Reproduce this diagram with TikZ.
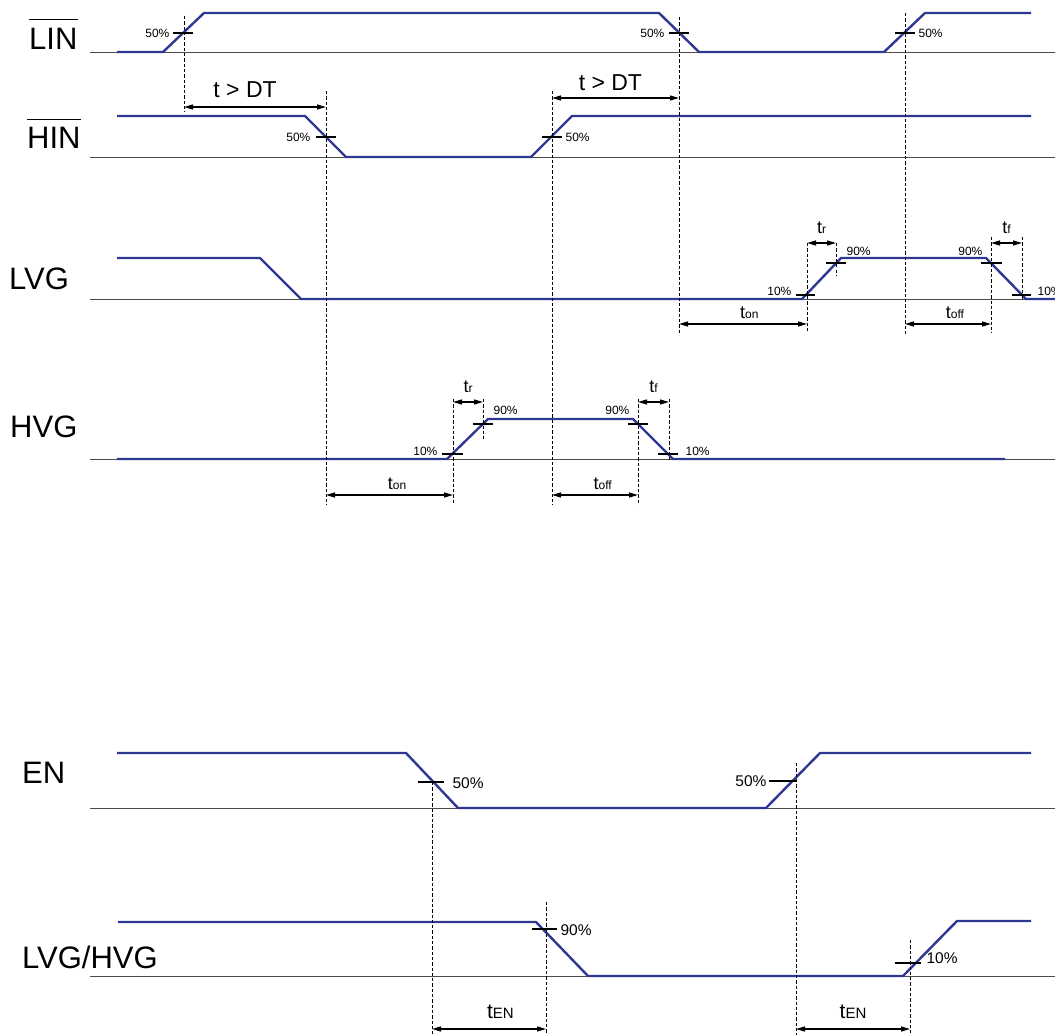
\documentclass[tikz,border=0pt]{standalone}
\usepackage{fontspec}
\setmainfont{Liberation Sans}
\usetikzlibrary{arrows.meta}
\usetikzlibrary{positioning}

\definecolor{sigblue}{RGB}{46,56,146}
\newcommand{\tsmall}[1]{t{\fontsize{12}{14}\selectfont #1}}
\newcommand{\tlarge}[1]{t{\fontsize{15}{18}\selectfont #1}}

\begin{document}
\begin{tikzpicture}[x=1pt, y=-1pt,
    wave/.style={sigblue, line width=2.4pt}, % Style for the signal traces
    zeroline/.style={black!70, line width=0.8pt}, % Style for the zero lines
    guide/.style={black, line width=0.7pt, dash pattern=on 3.3pt off 2pt}, % Dashed timing marks
    timespan/.style={black, line width=1.3pt, {Triangle[length=9pt,width=5pt]}-{Triangle[length=9pt,width=5pt]}}, % Time intervals
    lvlmark/.style={black, line width=1.2pt}, % Level crossings
    overbar/.style={black, line width=1.6pt}, % Bar over active-low names
    signame/.style={font=\fontsize{31}{36}\selectfont, anchor=base west, inner sep=0pt},
    pct/.style={font=\fontsize{12}{14}\selectfont, inner sep=1pt},
    pctbig/.style={font=\fontsize{15.5}{18}\selectfont, inner sep=1pt},
    spantext/.style={font=\fontsize{18}{20}\selectfont, inner sep=0pt},
    dttext/.style={font=\fontsize{23}{26}\selectfont, inner sep=0pt},
    entext/.style={font=\fontsize{21}{24}\selectfont, inner sep=0pt}
]
\useasboundingbox (0,0) rectangle (1055,1035);

% Zero lines
\foreach \y in {52,157,299,459,808,976}
    \draw[zeroline] (90,\y) -- (1055,\y);

% Signal names
\node[signame] (lin) at (29,50) {LIN};
\node[signame] (hin) at (27,149) {HIN};
\node[signame] (lvg) at (9,289) {LVG};
\node[signame] (hvg) at (10,437) {HVG};
\node[signame] (en) at (22,783) {EN};
\node[signame] (lvghvg) at (22,968) {LVG/HVG};
\draw[overbar] ([yshift=9pt]lin.north west) -- ([yshift=9pt]lin.north east);
\draw[overbar] ([yshift=8pt]hin.north west) -- ([yshift=8pt]hin.north east);

% --- Signal traces ---
\draw[wave] plot coordinates {
    (117,52) (163,52) (204,13) (659,13) (699,52) (884,52) (925,13) (1031,13)
};
\draw[wave] plot coordinates {
    (117,116) (305,116) (346,157) (531,157) (572,116) (1031,116)
};
\draw[wave] plot coordinates {
    (117,258) (260,258) (301,299) (802,299) (841,258) (986,258) (1026,299) (1055,299)
};
\draw[wave] plot coordinates {
    (117,459) (447,459) (488,419) (633,419) (673,459) (1005,459)
};
\draw[wave] plot coordinates {
    (117,753) (406,753) (458,808) (766,808) (820,753) (1031,753)
};
\draw[wave] plot coordinates {
    (118,922) (536,922) (588,976) (903,976) (957,921) (1031,921)
};

% --- Level crossings ---
% LIN and HIN at 50%
\draw[lvlmark] (173,33) -- (193,33) node[pct, anchor=east] at (171,33) {50\%};
\draw[lvlmark] (669,33) -- (689,33) node[pct, anchor=east] at (666,33) {50\%};
\draw[lvlmark] (895,33) -- (915,33) node[pct, anchor=west] at (917,33) {50\%};
\draw[lvlmark] (316,137) -- (336,137) node[pct, anchor=east] at (312,137) {50\%};
\draw[lvlmark] (542,137) -- (562,137) node[pct, anchor=west] at (564,137) {50\%};

% LVG at 10% / 90%
\draw[lvlmark] (796,295) -- (815,295) node[pct, anchor=east] at (793,291) {10\%};
\draw[lvlmark] (826,263) -- (846,263) node[pct, anchor=west] at (845,251) {90\%};
\draw[lvlmark] (981,263) -- (1002,263) node[pct, anchor=east] at (984,251) {90\%};
\draw[lvlmark] (1012,295) -- (1031,295) node[pct, anchor=west] at (1036,291) {10\%};

% HVG at 10% / 90%
\draw[lvlmark] (442,454) -- (463,454) node[pct, anchor=east] at (439,451) {10\%};
\draw[lvlmark] (473,424) -- (493,424) node[pct, anchor=west] at (492,410) {90\%};
\draw[lvlmark] (628,424) -- (648,424) node[pct, anchor=east] at (631,410) {90\%};
\draw[lvlmark] (658,454) -- (678,454) node[pct, anchor=west] at (684,451) {10\%};

% EN and LVG/HVG
\draw[lvlmark] (418,782) -- (444,782) node[pctbig, anchor=west] at (451,783) {50\%};
\draw[lvlmark] (769,781) -- (796,781) node[pctbig, anchor=east] at (768,781) {50\%};
\draw[lvlmark] (532,929) -- (557,929) node[pctbig, anchor=west] at (559,930) {90\%};
\draw[lvlmark] (895,963) -- (921,963) node[pctbig, anchor=west] at (925,958) {10\%};

% --- Dashed timing marks ---
\draw[guide] (184,16) -- (184,112);
\draw[guide] (326,91) -- (326,505);
\draw[guide] (552,91) -- (552,505);
\draw[guide] (679,17) -- (679,335);
\draw[guide] (905,13) -- (905,335);
\draw[guide] (807,243) -- (807,333);
\draw[guide] (836,243) -- (836,275);
\draw[guide] (991,237) -- (991,333);
\draw[guide] (1022,237) -- (1022,300);
\draw[guide] (453,399) -- (453,505);
\draw[guide] (483,399) -- (483,440);
\draw[guide] (638,399) -- (638,505);
\draw[guide] (669,399) -- (669,460);
\draw[guide] (432,782) -- (432,1035);
\draw[guide] (796,763) -- (796,1035);
\draw[guide] (546,902) -- (546,1035);
\draw[guide] (910,940) -- (910,1035);

% --- Time intervals ---
\coordinate (dtA1) at (184,107); \coordinate (dtA2) at (326,107);
\coordinate (dtB1) at (552,98);  \coordinate (dtB2) at (679,98);
\coordinate (lvgr1) at (807,243); \coordinate (lvgr2) at (836,243);
\coordinate (lvgf1) at (991,243); \coordinate (lvgf2) at (1022,243);
\coordinate (lvgon1) at (679,324); \coordinate (lvgon2) at (807,324);
\coordinate (lvgoff1) at (905,324); \coordinate (lvgoff2) at (991,324);
\coordinate (hvgr1) at (453,402); \coordinate (hvgr2) at (483,402);
\coordinate (hvgf1) at (638,402); \coordinate (hvgf2) at (669,402);
\coordinate (hvgon1) at (326,495); \coordinate (hvgon2) at (453,495);
\coordinate (hvgoff1) at (552,495); \coordinate (hvgoff2) at (638,495);
\coordinate (enA1) at (432,1029); \coordinate (enA2) at (546,1029);
\coordinate (enB1) at (796,1029); \coordinate (enB2) at (910,1029);

\draw[timespan] (dtA1) -- node[dttext, pos=0.43, above=9pt] {t > DT} (dtA2);
\draw[timespan] (dtB1) -- node[dttext, pos=0.46, above=7pt] {t > DT} (dtB2);
\draw[timespan] (lvgr1) -- node[spantext, midway, above=9pt] {\tsmall{r}} (lvgr2);
\draw[timespan] (lvgf1) -- node[spantext, midway, above=9pt] {\tsmall{f}} (lvgf2);
\draw[timespan] (lvgon1) -- node[spantext, pos=0.55, above=5pt] {\tsmall{on}} (lvgon2);
\draw[timespan] (lvgoff1) -- node[spantext, pos=0.58, above=5pt] {\tsmall{off}} (lvgoff2);
\draw[timespan] (hvgr1) -- node[spantext, midway, above=9pt] {\tsmall{r}} (hvgr2);
\draw[timespan] (hvgf1) -- node[spantext, midway, above=9pt] {\tsmall{f}} (hvgf2);
\draw[timespan] (hvgon1) -- node[spantext, pos=0.56, above=5pt] {\tsmall{on}} (hvgon2);
\draw[timespan] (hvgoff1) -- node[spantext, pos=0.59, above=5pt] {\tsmall{off}} (hvgoff2);
\draw[timespan] (enA1) -- node[entext, pos=0.6, above=10pt] {\tlarge{EN}} (enA2);
\draw[timespan] (enB1) -- node[entext, midway, above=10pt] {\tlarge{EN}} (enB2);

\end{tikzpicture}
\end{document}
